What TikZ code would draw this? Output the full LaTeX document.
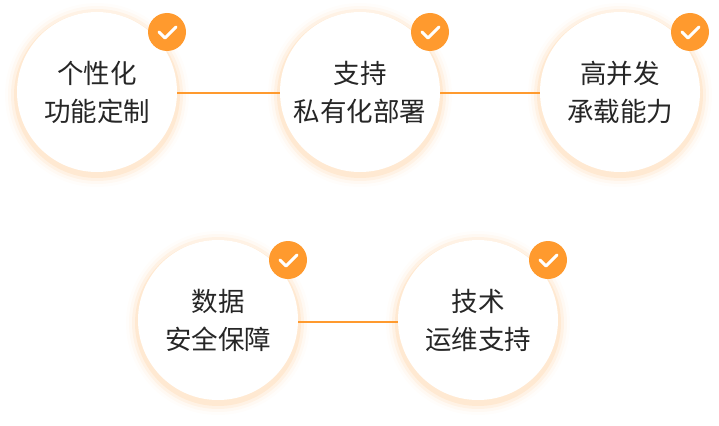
\documentclass[tikz,border=0pt]{standalone}
\usepackage{fontspec}
\newfontfamily\cjk{Noto Sans CJK SC}
\definecolor{org}{HTML}{FF9A2E}
\begin{document}
\begin{tikzpicture}[x=1pt,y=-1pt,
  circ/.style={circle,fill=white,minimum size=160pt,inner sep=0pt,align=center,font=\cjk\fontsize{26.5}{38}\selectfont,text=black!85},
  badge/.style={circle,fill=org,minimum size=38pt,inner sep=0pt},
  conn/.style={org,line width=2.5pt}]
\useasboundingbox (0,0) rectangle (719,425);
\foreach \p/\n in {{97,95}/a,{360,95}/b,{620,95}/c,{218,323}/d,{478,323}/e}{
  \foreach \r/\o in {92/0.02,89/0.04,86/0.07,83/0.1}{\fill[org,opacity=\o] (\p) circle (\r);}
}
\draw[conn] (97,93) -- (620,93);
\draw[conn] (218,322) -- (478,322);
\node[circ] (a) at (97,92) {个性化\\功能定制};
\node[circ] (b) at (360,92) {支持\\私有化部署};
\node[circ] (c) at (620,92) {高并发\\承载能力};
\node[circ] (d) at (218,320) {数据\\安全保障};
\node[circ] (e) at (478,320) {技术\\运维支持};
\foreach \n in {a,b,c,d,e}{
  \node[badge] (\n k) at ([shift={(70,-60)}]\n.center) {};
  \draw[white,line width=3pt,line cap=round,line join=round] ([shift={(-8,0)}]\n k.center) -- ([shift={(-2,6)}]\n k.center) -- ([shift={(9,-5)}]\n k.center);
}
\end{tikzpicture}
\end{document}
